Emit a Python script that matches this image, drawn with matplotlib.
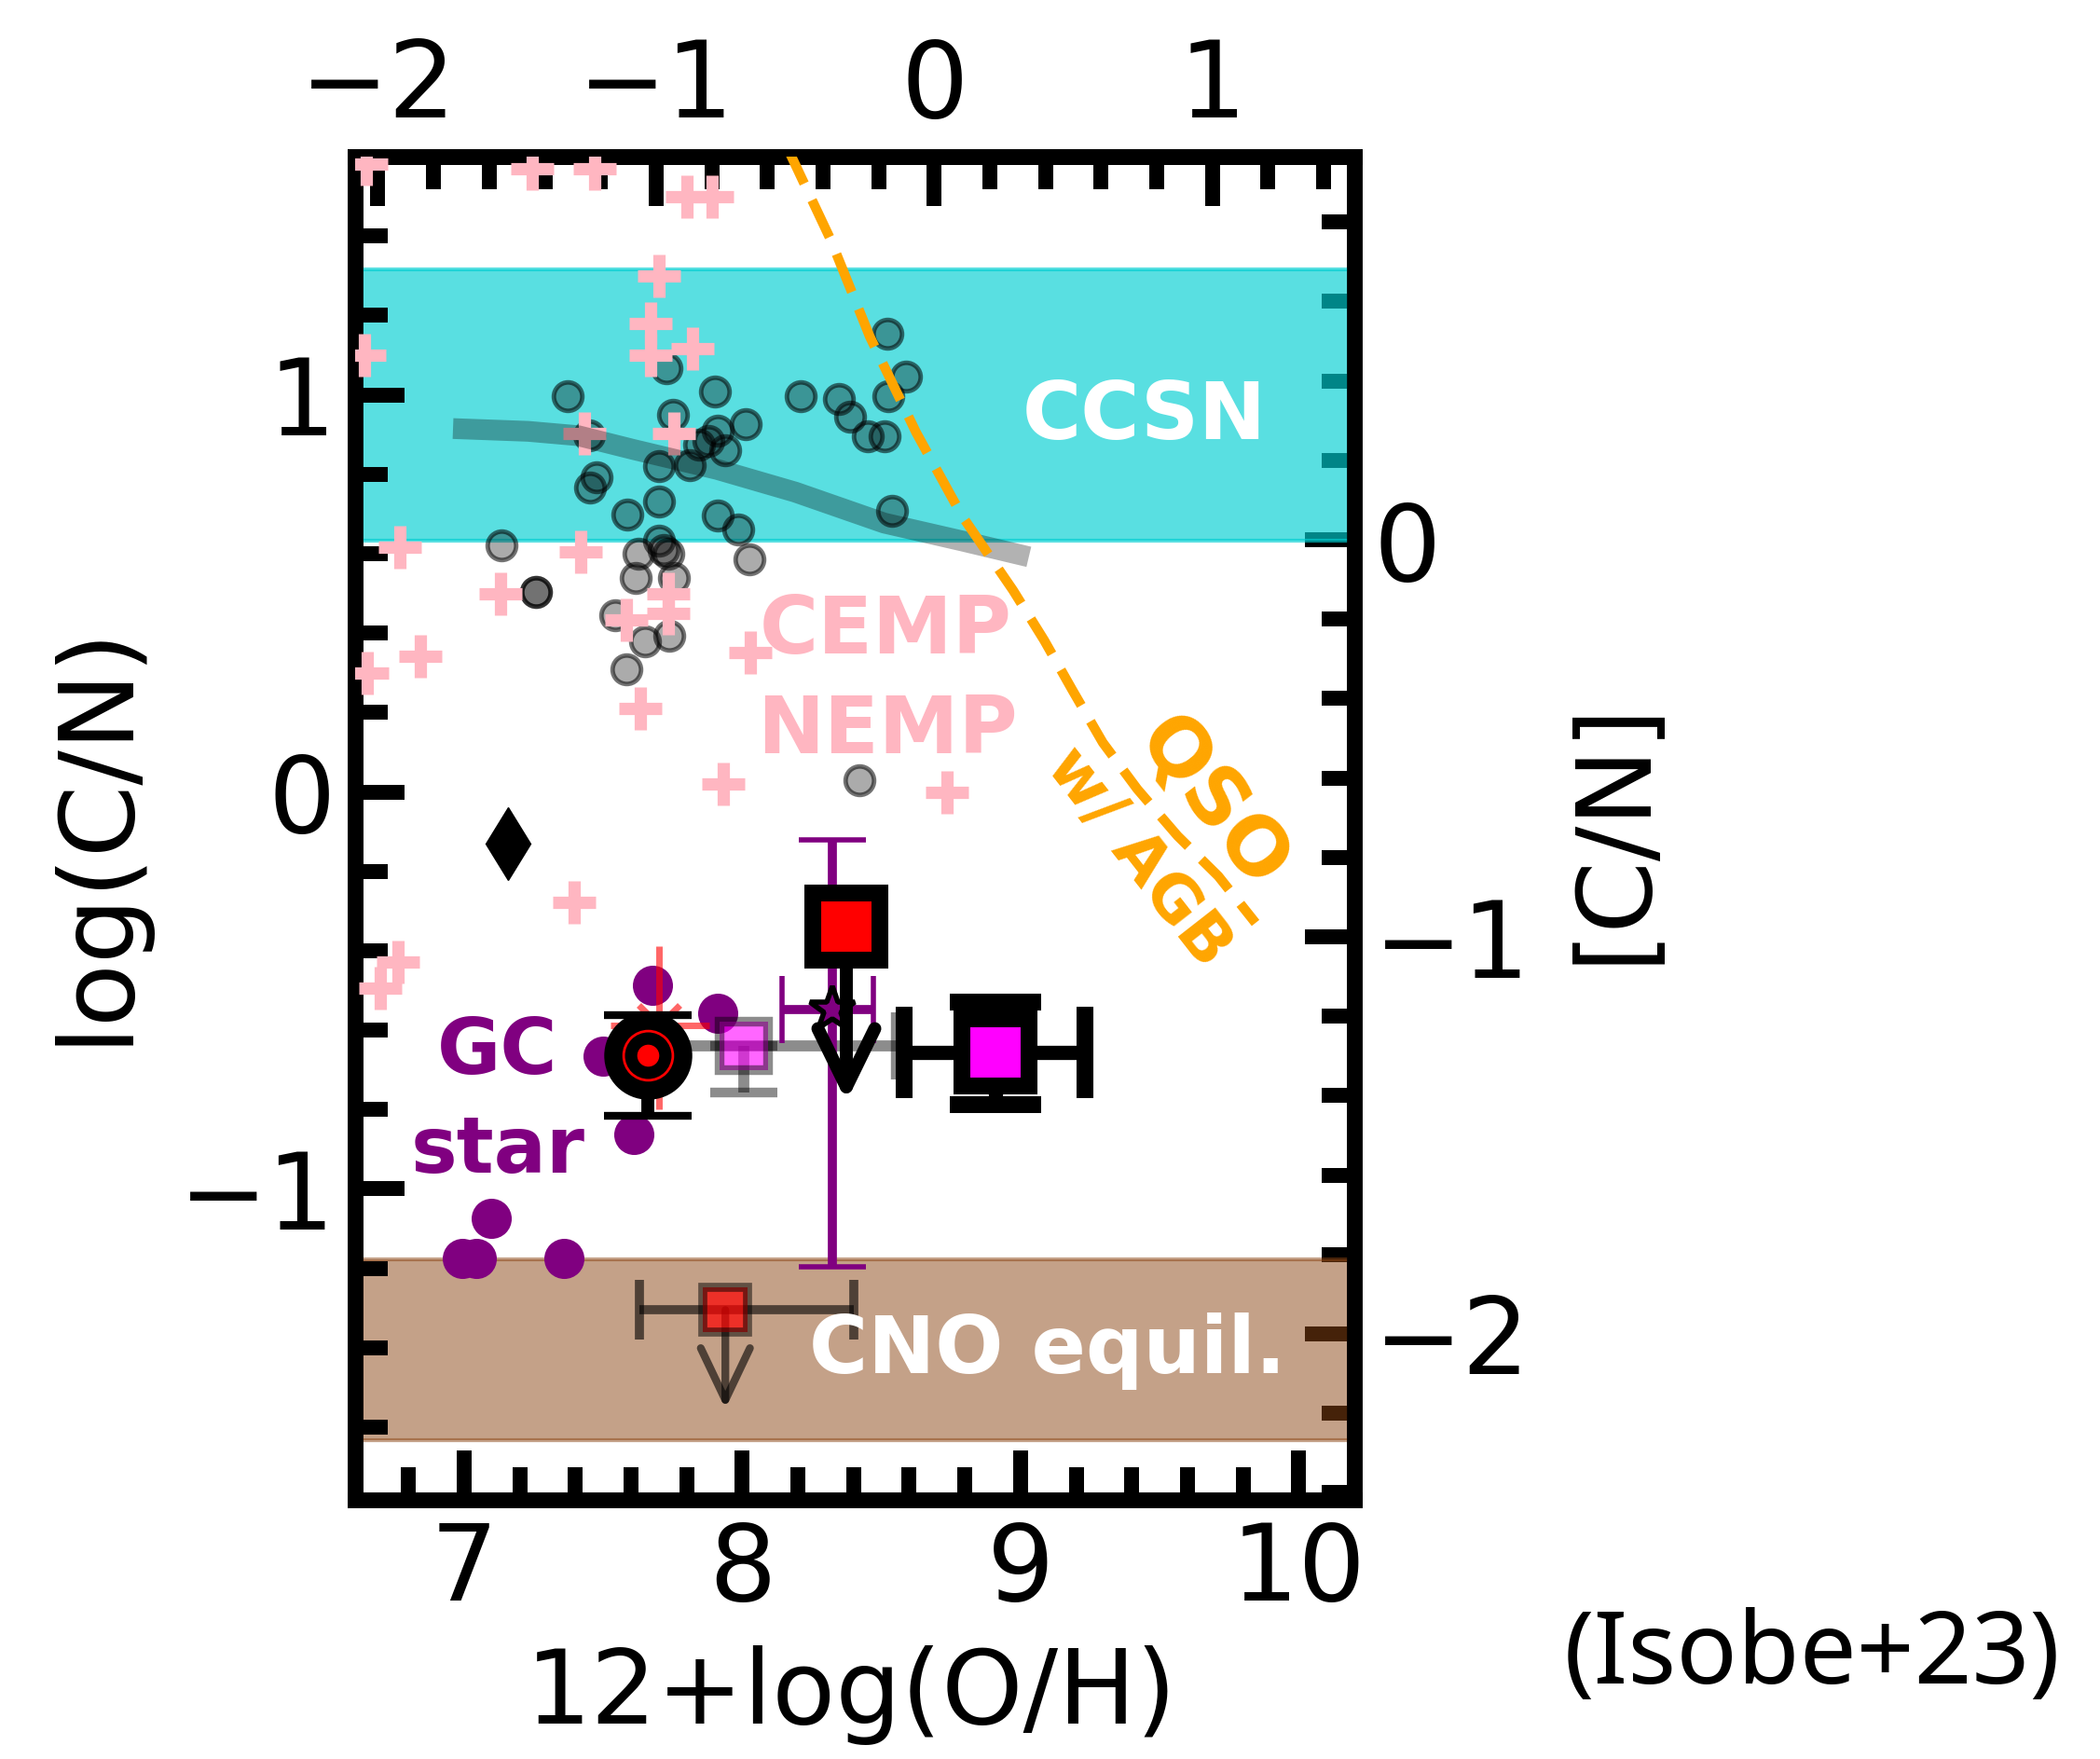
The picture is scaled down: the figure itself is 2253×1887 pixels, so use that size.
import matplotlib
matplotlib.use("Agg")
import matplotlib.pyplot as plt
from matplotlib.ticker import MultipleLocator
from matplotlib.patches import ArrowStyle

# solar reference values for the secondary axes
OH_SUN = 8.69
CN_SUN = 0.635

# metal-poor stars (grey circles)
star_x = [7.373, 7.727, 7.901, 8.211, 8.348, 8.387, 8.45, 8.51, 8.526, 8.587, 8.52,
          7.75, 8.012, 7.912, 7.845, 7.878, 7.94, 7.448, 7.70, 7.811, 7.476, 7.454,
          7.70, 7.588, 7.912, 7.984, 8.537, 7.70, 7.733, 7.716, 7.135, 7.627, 8.024,
          7.258, 7.258, 7.615, 7.755, 7.543, 7.649, 7.738, 7.582, 8.42]
star_y = [0.996, 1.067, 1.008, 0.996, 0.989, 0.946, 0.895, 0.895, 0.996, 1.047, 1.153,
          0.950, 0.926, 0.910, 0.875, 0.883, 0.860, 0.899, 0.820, 0.824, 0.793, 0.766,
          0.731, 0.699, 0.695, 0.660, 0.707, 0.633, 0.601, 0.609, 0.621, 0.601, 0.586,
          0.504, 0.504, 0.539, 0.539, 0.445, 0.378, 0.394, 0.308, 0.03]

# CEMP / NEMP stars (pink crosses)
cemp_x = [6.648, 7.245, 7.47, 7.80, 7.893, 7.70, 7.669, 7.669, 7.821, 6.64, 7.431,
          7.753, 6.77, 7.42, 7.13, 7.733, 7.733, 7.582, 6.842, 6.653, 8.03, 7.633,
          7.93, 8.736, 7.397, 6.761, 6.699]
cemp_y = [1.58, 1.57, 1.57, 1.50, 1.50, 1.30, 1.179, 1.10, 1.116, 1.10, 0.903,
          0.903, 0.616, 0.605, 0.50, 0.50, 0.449, 0.433, 0.342, 0.30, 0.35, 0.21,
          0.02, 0.0, -0.278, -0.428, -0.494]

# globular cluster stars
gc_x = [7.677, 7.912, 7.50, 7.61, 7.096, 6.995, 7.042, 7.359]
gc_y = [-0.486, -0.557, -0.666, -0.862, -1.073, -1.175, -1.175, -1.175]

# chemical evolution track (grey band line)
track_x = [6.96, 7.23, 7.41, 7.61, 7.91, 8.19, 8.51, 8.79, 9.03]
track_y = [0.915, 0.908, 0.897, 0.862, 0.812, 0.755, 0.677, 0.632, 0.592]

# QSO w/ AGB line
qso_x = [8.16, 8.318, 8.458, 8.625, 8.79, 8.973, 9.085, 9.186, 9.296, 9.42, 9.565, 9.711, 9.845]
qso_y = [1.625, 1.39, 1.147, 0.905, 0.695, 0.508, 0.382, 0.257, 0.124, 0.007, -0.111, -0.212, -0.33]

ccsn_band = (0.633, 1.316)
cno_band = (-1.632, -1.178)

plt.rcParams['font.family'] = 'DejaVu Sans'

fig = plt.figure(figsize=(22.53, 18.87), dpi=100)
ax = fig.add_axes([0.1691, 0.1473, 0.4758, 0.7637])
ax2 = ax.twinx()
ax.set_zorder(ax2.get_zorder() + 1)
ax.patch.set_visible(False)

ylim = (-1.783, 1.600)
ax.set_xlim(6.608, 10.20)
ax.set_ylim(ylim)
ax2.set_ylim(ylim[0] - CN_SUN, ylim[1] - CN_SUN)

ax.axhspan(*ccsn_band, fc='darkturquoise', ec='darkturquoise', alpha=0.65, lw=3, zorder=1)
ax.axhspan(*cno_band, fc='saddlebrown', ec='saddlebrown', alpha=0.5, lw=3, zorder=1)

ax.plot(star_x, star_y, 'o', ls='none', ms=22, mfc=(0, 0, 0, 0.33), mec=(0, 0, 0, 0.55), mew=3.5, zorder=2)
ax.plot(cemp_x, cemp_y, '+', ls='none', ms=33, mew=9.5, color='lightpink', zorder=3)
ax.plot(track_x, track_y, color='k', alpha=0.3, lw=16, solid_capstyle='butt', zorder=4)
ax.plot(qso_x, qso_y, color='orange', lw=7.5, dashes=(4.2, 1.9), zorder=4)

ax.plot(gc_x, gc_y, 'o', ls='none', color='purple', ms=31, mew=0, zorder=5)
ax.plot(7.156, -0.13, 'd', color='k', ms=40, zorder=6)

# red point behind the black one
ax.errorbar(7.70, -0.588, xerr=[[0.174], [0.183]], yerr=[[0.212], [0.20]], fmt='x',
            color='red', alpha=0.6, ms=32, mew=5, elinewidth=5, capsize=0, zorder=6)
ax.errorbar(7.66, -0.663, yerr=[[0.153], [0.10]], fmt='o', color='k', ms=62, mew=6,
            elinewidth=10, capsize=34, capthick=12, zorder=7)
ax.plot(7.66, -0.663, 'o', mfc='none', mec='red', ms=38, mew=2, zorder=8)
ax.plot(7.66, -0.663, 'o', color='red', ms=17, mew=0, zorder=8)

ax.errorbar(8.006, -0.64, xerr=[[0.30], [0.545]], yerr=[[0.117], [0.0]], fmt='s',
            mfc=(1, 0, 1, 0.6), mec=(0, 0, 0, 0.45), ms=37, mew=7.5, ecolor=(0, 0, 0, 0.45),
            elinewidth=8.5, capsize=26, capthick=8, zorder=6)

ax.errorbar(8.325, -0.548, xerr=[[0.182], [0.145]], yerr=[[0.649], [0.426]], fmt='*',
            mfc='purple', mec='k', ms=36, mew=4, ecolor='purple', elinewidth=7,
            capsize=26, capthick=7, zorder=7)

ax.errorbar(8.911, -0.657, xerr=[[0.33], [0.32]], yerr=[[0.131], [0.128]], fmt='s',
            mfc='magenta', mec='k', ms=52, mew=13, ecolor='k', elinewidth=11,
            capsize=35, capthick=12, zorder=7)

ax.annotate('', xy=(8.374, -0.78), xytext=(8.374, -0.339),
            arrowprops=dict(arrowstyle=ArrowStyle('->', head_length=0.45, head_width=0.22),
                            mutation_scale=100, lw=10, color='k', shrinkA=0, shrinkB=0,
                            capstyle='round', joinstyle='round'), zorder=8)
ax.plot(8.374, -0.339, 's', mfc='red', mec='k', ms=52, mew=13, zorder=9)

ax.annotate('', xy=(7.939, -1.554), xytext=(7.939, -1.305),
            arrowprops=dict(arrowstyle=ArrowStyle('->', head_length=0.40, head_width=0.19),
                            mutation_scale=100, lw=6, color=(0, 0, 0, 0.6), shrinkA=0, shrinkB=0,
                            capstyle='round', joinstyle='round'), zorder=6)
ax.errorbar(7.939, -1.305, xerr=[[0.309], [0.461]], fmt='s', mfc=(1, 0, 0, 0.7),
            mec=(0, 0, 0, 0.5), ms=34, mew=7, ecolor=(0, 0, 0, 0.6), elinewidth=7,
            capsize=23, capthick=7, zorder=6)

# annotations
ax.text(9.445, 0.888, 'CCSN', color='white', fontsize=62, fontweight='bold', ha='center', va='baseline', zorder=10)
ax.text(8.514, 0.348, 'CEMP', color='lightpink', fontsize=62, fontweight='bold', ha='center', va='baseline', zorder=10)
ax.text(8.52, 0.0985, 'NEMP', color='lightpink', fontsize=62, fontweight='bold', ha='center', va='baseline', zorder=10)
ax.text(7.119, -0.709, 'GC', color='purple', fontsize=60, fontweight='bold', ha='center', va='baseline', zorder=10)
ax.text(7.12, -0.959, 'star', color='purple', fontsize=60, fontweight='bold', ha='center', va='baseline', zorder=10)
ax.text(9.097, -1.464, 'CNO equil.', color='white', fontsize=62, fontweight='bold', ha='center', va='baseline', zorder=10)
ax.text(9.69, -0.03, 'QSO', color='orange', fontsize=62, fontweight='bold', rotation=-52,
        rotation_mode='anchor', ha='center', va='center', zorder=10)
ax.text(9.424, -0.165, 'w/ AGB', color='orange', fontsize=50, fontweight='bold', rotation=-52,
        rotation_mode='anchor', ha='center', va='center', zorder=10)

# ticks
ax.xaxis.set_major_locator(MultipleLocator(1))
ax.xaxis.set_minor_locator(MultipleLocator(0.2))
ax.yaxis.set_major_locator(MultipleLocator(1))
ax.yaxis.set_minor_locator(MultipleLocator(0.2))
ax.tick_params(which='both', direction='in', top=False, right=False, width=11.5, labelsize=82, pad=15)
ax.tick_params(which='major', length=38)
ax.tick_params(which='minor', length=25)

ax2.yaxis.set_major_locator(MultipleLocator(1))
ax2.yaxis.set_minor_locator(MultipleLocator(0.2))
ax2.tick_params(which='both', direction='in', width=11.5, labelsize=82, pad=15)
ax2.tick_params(which='major', length=38)
ax2.tick_params(which='minor', length=25)

secax = ax.secondary_xaxis('top', functions=(lambda v: v - OH_SUN, lambda v: v + OH_SUN))
secax.xaxis.set_major_locator(MultipleLocator(1))
secax.xaxis.set_minor_locator(MultipleLocator(0.2))
secax.tick_params(which='both', direction='in', width=11.5, labelsize=82, pad=13)
secax.tick_params(which='major', length=38)
secax.tick_params(which='minor', length=25)

for a in (ax, ax2, secax):
    for sp in a.spines.values():
        sp.set_linewidth(12)

ax.set_xlabel('12+log(O/H)', fontsize=80)
ax.xaxis.set_label_coords(0.497, -0.145)
ax.xaxis.label.set_va('center')
ax.set_ylabel('log(C/N)', fontsize=80)
ax.yaxis.set_label_coords(-0.259, 0.496)
ax.yaxis.label.set_va('center')
ax2.set_ylabel('[C/N]', fontsize=80)
ax2.yaxis.set_label_coords(1.26, 0.498)
ax2.yaxis.label.set_va('center')

fig.text(0.863, 0.058, '(Isobe+23)', fontsize=78, family='Noto Sans', ha='center', va='center')

fig.savefig('out.png', dpi=100)
